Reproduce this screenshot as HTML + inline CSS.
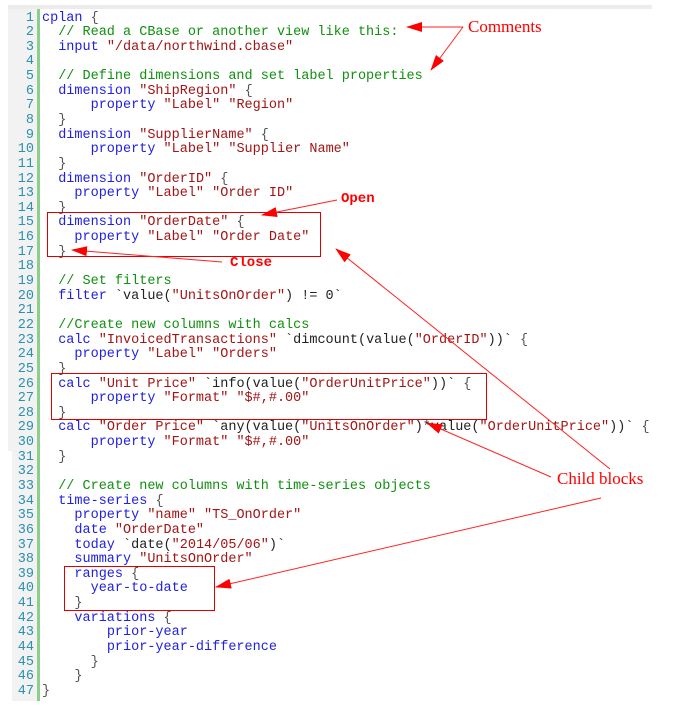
<!DOCTYPE html>
<html><head><meta charset="utf-8">
<style>
body{margin:0;width:675px;height:706px;background:#fff;position:relative;overflow:hidden;font-family:"Liberation Mono",monospace}
.topbar{position:absolute;left:8px;top:5px;width:644px;height:4px;background:#ececec}
.gut{position:absolute;left:8px;top:9px;width:29px;height:442px;background:#f2f2f2}
.gut2{position:absolute;left:12px;top:451px;width:25px;height:250px;background:#f2f2f2}
.green{position:absolute;left:37px;top:9px;width:3px;height:692px;background:#8ccf8c}
pre{margin:0;position:absolute;top:11.5px;font-size:13.5px;line-height:14.64px;font-family:"Liberation Mono",monospace}
.nums{left:8px;width:26px;text-align:right;color:#2b91af}
.code{left:42px;color:#222}
.k{color:#2020e0}.s{color:#a31515}.c{color:#109010}.b{color:#555}
.box{position:absolute;border:1.5px solid #e00000}
.lbl{position:absolute;color:#ff0000}
</style></head><body>
<div class="topbar"></div><div class="gut"></div><div class="gut2"></div><div class="green"></div>
<pre class="nums">1
2
3
4
5
6
7
8
9
10
11
12
13
14
15
16
17
18
19
20
21
22
23
24
25
26
27
28
29
30
31
32
33
34
35
36
37
38
39
40
41
42
43
44
45
46
47</pre>
<pre class="code"><span class="k">cplan</span> <span class="b">{</span>
  <span class="c">// Read a CBase or another view like this:</span>
  <span class="k">input</span> <span class="s">"/data/northwind.cbase"</span>

  <span class="c">// Define dimensions and set label properties</span>
  <span class="k">dimension</span> <span class="s">"ShipRegion"</span> <span class="b">{</span>
      <span class="k">property</span> <span class="s">"Label"</span> <span class="s">"Region"</span>
  <span class="b">}</span>
  <span class="k">dimension</span> <span class="s">"SupplierName"</span> <span class="b">{</span>
      <span class="k">property</span> <span class="s">"Label"</span> <span class="s">"Supplier Name"</span>
  <span class="b">}</span>
  <span class="k">dimension</span> <span class="s">"OrderID"</span> <span class="b">{</span>
    <span class="k">property</span> <span class="s">"Label"</span> <span class="s">"Order ID"</span>
  <span class="b">}</span>
  <span class="k">dimension</span> <span class="s">"OrderDate"</span> <span class="b">{</span>
    <span class="k">property</span> <span class="s">"Label"</span> <span class="s">"Order Date"</span>
  <span class="b">}</span>

  <span class="c">// Set filters</span>
  <span class="k">filter</span> `value(<span class="s">"UnitsOnOrder"</span>) != 0`

  <span class="c">//Create new columns with calcs</span>
  <span class="k">calc</span> <span class="s">"InvoicedTransactions"</span> `dimcount(value(<span class="s">"OrderID"</span>))` <span class="b">{</span>
    <span class="k">property</span> <span class="s">"Label"</span> <span class="s">"Orders"</span>
  <span class="b">}</span>
  <span class="k">calc</span> <span class="s">"Unit Price"</span> `info(value(<span class="s">"OrderUnitPrice"</span>))` <span class="b">{</span>
      <span class="k">property</span> <span class="s">"Format"</span> <span class="s">"$#,#.00"</span>
  <span class="b">}</span>
  <span class="k">calc</span> <span class="s">"Order Price"</span> `any(value(<span class="s">"UnitsOnOrder"</span>)*value(<span class="s">"OrderUnitPrice"</span>))` <span class="b">{</span>
      <span class="k">property</span> <span class="s">"Format"</span> <span class="s">"$#,#.00"</span>
  <span class="b">}</span>

  <span class="c">// Create new columns with time-series objects</span>
  <span class="k">time-series</span> <span class="b">{</span>
    <span class="k">property</span> <span class="s">"name"</span> <span class="s">"TS_OnOrder"</span>
    <span class="k">date</span> <span class="s">"OrderDate"</span>
    <span class="k">today</span> `date(<span class="s">"2014/05/06"</span>)`
    <span class="k">summary</span> <span class="s">"UnitsOnOrder"</span>
    <span class="k">ranges</span> <span class="b">{</span>
      <span class="k">year-to-date</span>
    <span class="b">}</span>
    <span class="k">variations</span> <span class="b">{</span>
        <span class="k">prior-year</span>
        <span class="k">prior-year-difference</span>
      <span class="b">}</span>
    <span class="b">}</span>
<span class="b">}</span></pre>
<div class="box" style="left:47px;top:212px;width:272px;height:43px"></div>
<div class="box" style="left:51px;top:373px;width:434px;height:45px"></div>
<div class="box" style="left:64px;top:566px;width:149px;height:43px"></div>
<div class="lbl" style="left:468px;top:17px;font:17px 'Liberation Serif',serif">Comments</div>
<div class="lbl" style="left:341px;top:191px;font:bold 14px 'Liberation Mono',monospace">Open</div>
<div class="lbl" style="left:230px;top:255px;font:bold 14px 'Liberation Mono',monospace">Close</div>
<div class="lbl" style="left:557px;top:469px;font:17px 'Liberation Serif',serif">Child blocks</div>
<svg width="675" height="706" style="position:absolute;left:0;top:0">
<defs><marker id="h" markerWidth="16" markerHeight="10" refX="15" refY="5" orient="auto" markerUnits="userSpaceOnUse"><path d="M0,0L16,5L0,10z" fill="#f00"/></marker></defs>
<g stroke="#f22" stroke-width="1" fill="none">
<line x1="463" y1="27" x2="407" y2="27" marker-end="url(#h)"/>
<line x1="463" y1="27" x2="431" y2="70" marker-end="url(#h)"/>
<line x1="337" y1="200" x2="262" y2="215" marker-end="url(#h)"/>
<line x1="222" y1="262" x2="72" y2="250" marker-end="url(#h)"/>
<line x1="610" y1="469" x2="336" y2="249" marker-end="url(#h)"/>
<line x1="551" y1="477" x2="427" y2="423" marker-end="url(#h)"/>
<line x1="601" y1="498" x2="216" y2="587" marker-end="url(#h)"/>
</g></svg>
</body></html>
